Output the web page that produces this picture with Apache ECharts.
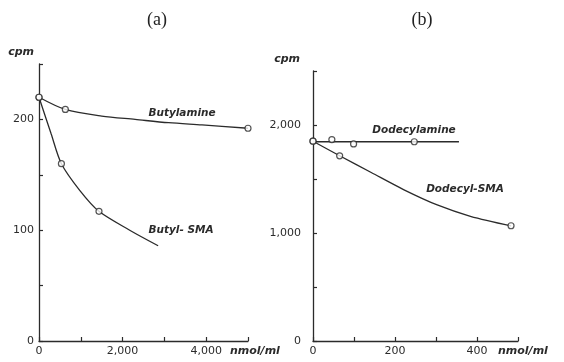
<!DOCTYPE html>
<html>
<head>
<meta charset="utf-8">
<script src="https://cdn.jsdelivr.net/npm/echarts@6/dist/echarts.min.js"></script>
<style>
  html, body { margin: 0; padding: 0; background: #fff; }
  #main { width: 564px; height: 362px; }
</style>
</head>
<body>
<div id="main"></div>
<script>
// panel (a)  -- x: nmol/ml, y: cpm
// open circles (measured points)
var butylaminePts = [[0, 220], [630, 209], [5000, 192]];
var butylSmaPts = [[0, 220], [536, 160], [1435, 117]];
// drawn curves
var butylamineCurve = [[0, 220], [630, 209], [1500, 203], [2300, 200], [3100, 197], [3900, 195], [5000, 192]];
var butylSmaCurve = [[0, 220], [290, 187], [536, 160], [974, 136], [1435, 117], [2170, 100], [2850, 86]];

// panel (b)
var dodecylaminePts = [[0, 1850], [46, 1865], [99, 1825], [247, 1845]];
var dodecylSmaPts = [[0, 1850], [65, 1715], [483, 1067]];
var dodecylamineLine = [[0, 1845], [356, 1845]];
var dodecylSmaCurve = [[0, 1850], [65, 1715], [142, 1560], [222, 1400], [303, 1260], [384, 1155], [483, 1067]];

// tick labels that are printed
var xLabelsA = { 0: '0', 2000: '2,000', 4000: '4,000' };
var yLabelsA = { 0: '0', 100: '100', 200: '200' };
var xLabelsB = { 0: '0', 200: '200', 400: '400' };
var yLabelsB = { 0: '0', 1000: '1,000', 2000: '2,000' };

var ink = '#2b2b2b';
var numFont = 'DejaVu Sans';

var myChart = echarts.init(document.getElementById('main'));

function xAxisCfg(idx, max, step, labels, gap) {
    return {
        gridIndex: idx, type: 'value', min: 0, max: max, interval: step,
        name: 'nmol/ml', nameLocation: 'end', nameGap: gap,
        nameTextStyle: { color: ink, fontFamily: numFont, fontStyle: 'italic', fontWeight: 'bold',
            fontSize: 11, align: 'left', verticalAlign: 'top', padding: [5, 0, 0, 0] },
        axisLine: { lineStyle: { color: ink, width: 1.3 } },
        axisTick: { inside: true, length: 4, lineStyle: { color: ink, width: 1.2 } },
        splitLine: { show: false },
        axisLabel: {
            color: ink, fontFamily: numFont, fontSize: 11, margin: 5,
            showMaxLabel: true,
            formatter: function (v) { return labels[v] || ''; }
        }
    };
}

function yAxisCfg(idx, max, step, labels, namePad, margin) {
    return {
        gridIndex: idx, type: 'value', min: 0, max: max, interval: step,
        name: 'cpm', nameLocation: 'end', nameGap: 6,
        nameTextStyle: { color: ink, fontFamily: numFont, fontStyle: 'italic', fontWeight: 'bold',
            fontSize: 11, align: 'right', padding: [0, namePad, 0, 0] },
        axisLine: { show: true, lineStyle: { color: ink, width: 1.3 } },
        axisTick: { show: true, inside: true, length: 4, lineStyle: { color: ink, width: 1.2 } },
        splitLine: { show: false },
        axisLabel: {
            color: ink, fontFamily: numFont, fontSize: 11, margin: margin,
            formatter: function (v) { return labels[v] || ''; }
        }
    };
}

function curve(name, idx, data, sm) {
    return {
        name: name, type: 'line', xAxisIndex: idx, yAxisIndex: idx,
        data: data, smooth: sm, showSymbol: false, symbol: 'none',
        lineStyle: { color: ink, width: 1.3 }, z: 2, silent: true
    };
}

function dots(name, idx, data) {
    return {
        name: name, type: 'scatter', xAxisIndex: idx, yAxisIndex: idx,
        data: data, symbol: 'circle', symbolSize: 6,
        itemStyle: { color: '#fff', borderColor: ink, borderWidth: 1.2 }, z: 3, silent: true
    };
}

var curveLabel = { fill: ink, font: 'italic bold 10.5px "DejaVu Sans"',
    align: 'center', verticalAlign: 'middle' };

option = {
    backgroundColor: '#fff',
    animation: false,
    title: [
        { text: '(a)', left: 152, top: 6, textAlign: 'center',
          textStyle: { fontFamily: 'Liberation Serif', fontWeight: 'normal', fontSize: 18, color: '#222' } },
        { text: '(b)', left: 417, top: 6, textAlign: 'center',
          textStyle: { fontFamily: 'Liberation Serif', fontWeight: 'normal', fontSize: 18, color: '#222' } }
    ],
    grid: [
        { left: 39, top: 64, width: 209, height: 277 },
        { left: 313, top: 71, width: 205, height: 270 }
    ],
    xAxis: [
        xAxisCfg(0, 5000, 1000, xLabelsA, -18),
        xAxisCfg(1, 500, 100, xLabelsB, -20)
    ],
    yAxis: [
        yAxisCfg(0, 250, 50, yLabelsA, 5, 5),
        yAxisCfg(1, 2500, 500, yLabelsB, 13, 12)
    ],
    graphic: [
        { type: 'text', x: 182, y: 113, style: Object.assign({ text: 'Butylamine' }, curveLabel) },
        { type: 'text', x: 181, y: 230, style: Object.assign({ text: 'Butyl- SMA' }, curveLabel) },
        { type: 'text', x: 414, y: 130, style: Object.assign({ text: 'Dodecylamine' }, curveLabel) },
        { type: 'text', x: 465, y: 189, style: Object.assign({ text: 'Dodecyl-SMA' }, curveLabel) }
    ],
    series: [
        curve('Butylamine', 0, butylamineCurve, 0.3),
        dots('Butylamine', 0, butylaminePts),
        curve('Butyl-SMA', 0, butylSmaCurve, 0.3),
        dots('Butyl-SMA', 0, butylSmaPts),
        curve('Dodecylamine', 1, dodecylamineLine, false),
        dots('Dodecylamine', 1, dodecylaminePts),
        curve('Dodecyl-SMA', 1, dodecylSmaCurve, 0.3),
        dots('Dodecyl-SMA', 1, dodecylSmaPts)
    ]
};
myChart.setOption(option);
</script>
</body>
</html>
